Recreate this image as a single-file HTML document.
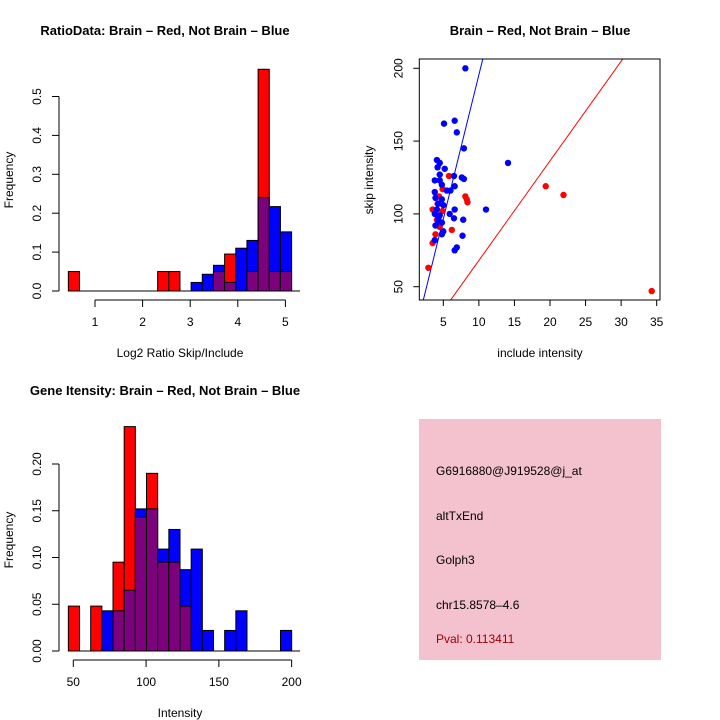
<!DOCTYPE html>
<html><head><meta charset="utf-8"><style>
body{margin:0;background:#fff}
svg{display:block;font-family:"Liberation Sans",sans-serif}
</style></head><body>
<svg id="s" width="720" height="720" xmlns="http://www.w3.org/2000/svg">
<rect width="720" height="720" fill="#fff"/>
<g id="p1"></g>
<g id="p2"></g>
<g id="p3"></g>
<g>
<rect x="419" y="419" width="242" height="241" fill="#f3c2ce"/>
<text x="436" y="475" font-size="12">G6916880@J919528@j_at</text>
<text x="436" y="520" font-size="12">altTxEnd</text>
<text x="436" y="564" font-size="12">Golph3</text>
<text x="436" y="609" font-size="12">chr15.8578–4.6</text>
<text x="436" y="643" font-size="12" fill="#a00000">Pval: 0.113411</text>
</g>
</svg>
<script>
// Ratio histogram data (20 bins)
const ratioBinStart = 0.44, ratioBinWidth = 0.2345;
const ratioRed  = [0.05,0,0,0,0,0,0,0,0.05,0.05,0,0,0,0.05,0.095,0,0.05,0.57,0.05,0.05];
const ratioBlue = [0,0,0,0,0,0,0,0,0,0,0,0.022,0.043,0.066,0.022,0.11,0.13,0.24,0.217,0.152];
const ratioXTicks = [1,2,3,4,5];
const ratioYTicks = ["0.0","0.1","0.2","0.3","0.4","0.5"];
// Gene intensity histogram data (20 bins)
const geneBinStart = 46.6, geneBinWidth = 7.67;
const geneRed  = [0.048,0,0.048,0,0.095,0.24,0.143,0.19,0.095,0.095,0.048,0,0,0,0,0,0,0,0,0];
const geneBlue = [0,0,0,0.043,0.043,0.065,0.152,0.152,0.109,0.13,0.087,0.109,0.022,0,0.022,0.043,0,0,0,0.022];
const geneXTicks = [50,100,150,200];
const geneYTicks = ["0.00","0.05","0.10","0.15","0.20"];
// Scatter data
const blueX = [8.1,5.1,6.6,6.9,7.9,14.1,4.1,4.5,4.2,5.2,4.5,3.8,4.5,7.6,7.9,6.5,4.8,6.6,3.8,5.5,6.0,3.9,4.8,4.3,5.0,4.1,6.6,11,3.8,4.5,5.9,4.3,6.5,7.8,3.9,4.8,5.0,4.8,7.7,3.8,6.9,6.6,4.3];
const blueY = [200,162,164,156,145,135,137,135,132,131,127,123,123,125,124,126,120,119,115,116,116,111,110,107,106,103,103,103,100,99,100,97,97,96,92,94,88,86,85,82,77,75,95];
const redX = [2.9,3.5,3.9,3.5,4.2,4.9,5.8,4.9,4.1,4.5,6.2,8.1,8.3,8.4,19.4,21.9,34.3,4.4];
const redY = [63,80,86,103,107,117,126,102,96,91,89,112,110,108,119,113,47,112];
const blueLine = [-2.5,19.8], redLine = [-0.4,6.84];
const scXTicks = [5,10,15,20,25,30,35];
const scYTicks = [50,100,150,200];

const NS="http://www.w3.org/2000/svg";
function mk(parent,tag,attrs,name){const e=document.createElementNS(NS,tag);for(const k in attrs)e.setAttribute(k,attrs[k]);


parent.appendChild(e);return e;}
function txt(parent,x,y,s,attrs,name){const e=mk(parent,'text',Object.assign({x:x,y:y,'font-size':12,'text-anchor':'middle'},attrs||{}),name);e.textContent=s;return e;}

function hist(g,red,blue,bs,bw,xs,ys,x0,yb,xTicks,yTicks,yStep,opt){
  const n=red.length;
  mk(g,'line',{x1:xs(bs),x2:opt.baseEnd,y1:yb,y2:yb,stroke:'#000'},'baseline');
  for(let i=0;i<n;i++){
    const xa=xs(bs+i*bw), xb=xs(bs+(i+1)*bw), r=red[i], b=blue[i];
    const hi=Math.max(r,b), lo=Math.min(r,b);
    if(hi>0) mk(g,'rect',{x:xa,y:ys(hi),width:xb-xa,height:yb-ys(hi),fill:r>=b?'#ff0000':'#0000ff',stroke:'#000'},r>=b?'bar-red':'bar-blue');
    if(lo>0) mk(g,'rect',{x:xa,y:ys(lo),width:xb-xa,height:yb-ys(lo),fill:'#7d007d',stroke:'#000'},'bar-overlap');
  }
  const ay=opt.axisY;
  mk(g,'line',{x1:xs(xTicks[0]),x2:xs(xTicks[xTicks.length-1]),y1:ay,y2:ay,stroke:'#000'},'x-axis');
  xTicks.forEach(t=>{mk(g,'line',{x1:xs(t),x2:xs(t),y1:ay,y2:ay+7,stroke:'#000'},'x-tick');txt(g,xs(t),ay+26,String(t),{},'x-tick-label');});
  const yv=yTicks.map(parseFloat);
  mk(g,'line',{x1:x0,x2:x0,y1:ys(yv[0]),y2:ys(yv[yv.length-1]),stroke:'#000'},'y-axis');
  yTicks.forEach(t=>{const y=ys(parseFloat(t));mk(g,'line',{x1:x0,x2:x0-7,y1:y,y2:y,stroke:'#000'},'y-tick');
    txt(g,x0-18,y,t,{transform:`rotate(-90 ${x0-18} ${y})`,'dominant-baseline':'auto'},'y-tick-label');});
}

// Panel 1
(function(){const g=document.getElementById('p1');
 const xs=v=>95+(v-1)*47.6, ys=v=>291-v*389;
 hist(g,ratioRed,ratioBlue,ratioBinStart,ratioBinWidth,xs,ys,59,291,ratioXTicks,ratioYTicks,0,{baseEnd:300,axisY:300});
 txt(g,165,35,'RatioData: Brain – Red, Not Brain – Blue',{'font-size':13,'font-weight':'bold'},'chart-title');
 txt(g,180,357,'Log2 Ratio Skip/Include',{},'x-axis-title');
 txt(g,13,180,'Frequency',{transform:'rotate(-90 13 180)'},'y-axis-title');
})();
// Panel 3
(function(){const g=document.getElementById('p3');
 const xs=v=>73.3+(v-50)*1.4557, ys=v=>651-v*935;
 hist(g,geneRed,geneBlue,geneBinStart,geneBinWidth,xs,ys,59,651,geneXTicks,geneYTicks,0,{baseEnd:300,axisY:660});
 txt(g,165,395,'Gene Itensity: Brain – Red, Not Brain – Blue',{'font-size':13,'font-weight':'bold'},'chart-title');
 txt(g,180,717,'Intensity',{},'x-axis-title');
 txt(g,13,540,'Frequency',{transform:'rotate(-90 13 540)'},'y-axis-title');
})();
// Panel 2
(function(){const g=document.getElementById('p2');
 const xs=v=>443.3+(v-5)*7.113, ys=v=>286.7-(v-50)*1.456;
 const L=419.3,R=660,T=59,B=300;
 mk(g,'defs',{},'clip-defs').innerHTML='<clipPath id="cp"><rect x="419.3" y="59" width="240.7" height="241"/></clipPath>';
 const cg=mk(g,'g',{'clip-path':'url(#cp)'},'plot-area');
 [[blueLine,'#0000ff','fit-line-blue'],[redLine,'#ff0000','fit-line-red']].forEach(([ln,c,n])=>{
   const xa=-5,xb=45;mk(cg,'line',{x1:xs(xa),y1:ys(ln[0]+ln[1]*xa),x2:xs(xb),y2:ys(ln[0]+ln[1]*xb),stroke:c},n);});
 redX.forEach((x,i)=>mk(cg,'circle',{cx:xs(x),cy:ys(redY[i]),r:3.2,fill:'#ff0000'},'point-red'));
 blueX.forEach((x,i)=>mk(cg,'circle',{cx:xs(x),cy:ys(blueY[i]),r:3.2,fill:'#0000ff'},'point-blue'));
 mk(g,'rect',{x:L,y:T,width:R-L,height:B-T,fill:'none',stroke:'#000'},'plot-frame');
 scXTicks.forEach(t=>{mk(g,'line',{x1:xs(t),x2:xs(t),y1:B,y2:B+6,stroke:'#000'},'x-tick');txt(g,xs(t),B+26,String(t),{},'x-tick-label');});
 scYTicks.forEach(t=>{const y=ys(t);mk(g,'line',{x1:L,x2:L-6,y1:y,y2:y,stroke:'#000'},'y-tick');
   txt(g,L-17,y,String(t),{transform:`rotate(-90 ${L-17} ${y})`},'y-tick-label');});
 txt(g,540,35,'Brain – Red, Not Brain – Blue',{'font-size':13,'font-weight':'bold'},'chart-title');
 txt(g,540,357,'include intensity',{},'x-axis-title');
 txt(g,373,180,'skip intensity',{transform:'rotate(-90 373 180)'},'y-axis-title');
})();
</script>
</body></html>
